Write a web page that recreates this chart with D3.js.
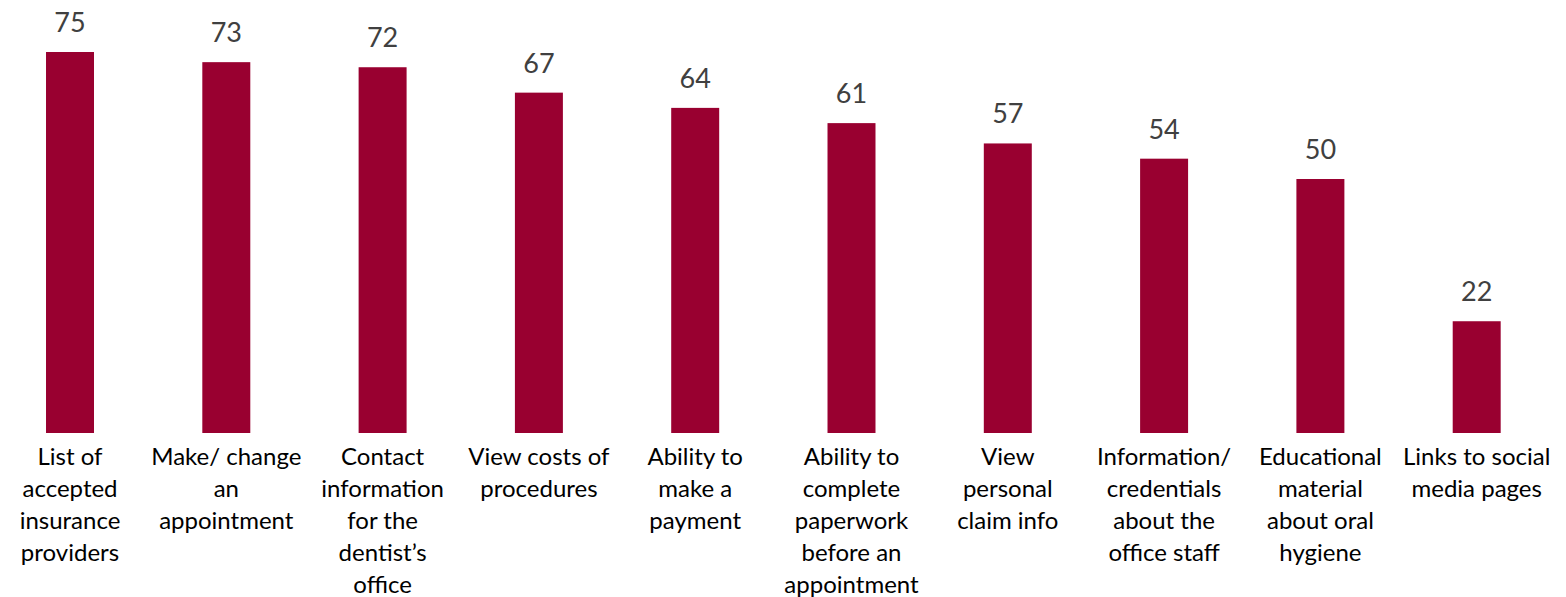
<!DOCTYPE html>
<html>
<head>
<meta charset="utf-8">
<script src="https://cdn.jsdelivr.net/npm/d3@7"></script>
<style>
  body { margin: 0; background: #fff; }
  .value { font-family: Lato, "Open Sans", sans-serif; font-size: 27px; fill: #404040; }
  .cat { font-family: Lato, "Open Sans", sans-serif; font-size: 24px; fill: #000; }
</style>
</head>
<body>
<script>
// chart data
var categories = [
  "List of accepted insurance providers",
  "Make/ change an appointment",
  "Contact information for the dentist’s office",
  "View costs of procedures",
  "Ability to make a payment",
  "Ability to complete paperwork before an appointment",
  "View personal claim info",
  "Information/ credentials about the office staff",
  "Educational material about oral hygiene",
  "Links to social media pages"
];
var values = [75, 73, 72, 67, 64, 61, 57, 54, 50, 22];
// wrapped label lines, as in the original
var labelLines = [
  ["List of", "accepted", "insurance", "providers"],
  ["Make/ change", "an", "appointment"],
  ["Contact", "information", "for the", "dentist’s", "office"],
  ["View costs of", "procedures"],
  ["Ability to", "make a", "payment"],
  ["Ability to", "complete", "paperwork", "before an", "appointment"],
  ["View", "personal", "claim info"],
  ["Information/", "credentials", "about the", "office staff"],
  ["Educational", "material", "about oral", "hygiene"],
  ["Links to social", "media pages"]
];

var width = 1566, height = 597;
var baseline = 433;

var svg = d3.select("body").append("svg")
    .attr("width", width)
    .attr("height", height);

var xScale = d3.scaleBand()
    .domain(categories)
    .range([-62.3, 1609])
    .padding(0.693);

var yScale = d3.scaleLinear()
    .domain([0, 80])
    .range([baseline, baseline - 80 * 5.08]);

// bars
svg.selectAll(".bar")
    .data(values)
  .enter().append("rect")
    .attr("class", "bar")
    .attr("x", function(d, i) { return xScale(categories[i]); })
    .attr("y", function(d) { return yScale(d); })
    .attr("width", xScale.bandwidth())
    .attr("height", function(d) { return yScale(0) - yScale(d); })
    .style("fill", "#990030");

// value labels
svg.selectAll(".value")
    .data(values)
  .enter().append("text")
    .attr("class", "value")
    .attr("x", function(d, i) { return xScale(categories[i]) + xScale.bandwidth() / 2; })
    .attr("y", function(d) { return yScale(d) - 20; })
    .attr("text-anchor", "middle")
    .text(function(d) { return d; });

// category labels
var cat = svg.selectAll(".cat")
    .data(categories)
  .enter().append("text")
    .attr("class", "cat")
    .attr("text-anchor", "middle")
    .attr("transform", function(d) {
        return "translate(" + (xScale(d) + xScale.bandwidth() / 2) + "," + (baseline + 32) + ")";
    });

cat.selectAll("tspan")
    .data(function(d, i) { return labelLines[i]; })
  .enter().append("tspan")
    .attr("x", 0)
    .attr("y", function(d, i) { return i * 32; })
    .text(function(d) { return d; });
</script>
</body>
</html>
